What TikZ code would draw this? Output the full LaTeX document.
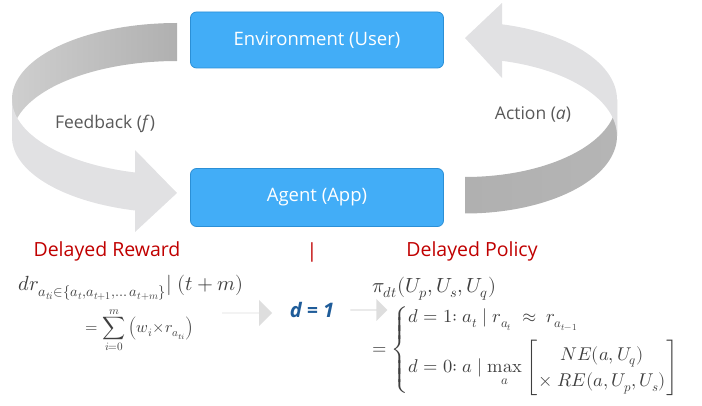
\documentclass[tikz,border=0pt]{standalone}
\usepackage{amsmath}
\usepackage{fontspec}
\usepackage[mathrm=sym]{unicode-math}
\setmainfont{Open Sans}
\setmathfont{Latin Modern Math}
\usetikzlibrary{calc,positioning,arrows,shapes}
\definecolor{boxblue}{HTML}{42ADF7}
\definecolor{boxline}{HTML}{2B8FD6}
\definecolor{delred}{HTML}{C00000}
\definecolor{dblue}{HTML}{1F5C99}
\definecolor{txtgray}{HTML}{595959}
\definecolor{mathgray}{HTML}{3F3F3F}
\definecolor{riblight}{HTML}{E1E1E3}
\begin{document}
\begin{tikzpicture}[x=1pt,y=-1pt,
  box/.style={draw=boxline,fill=boxblue,rounded corners=6pt,minimum width=253pt,minimum height=56pt,text=white,font=\fontsize{18.5}{22}\selectfont,line width=0.8pt},
  lbl/.style={text=txtgray,font=\fontsize{17.5}{21}\selectfont},
  headline/.style={text=delred,font=\fontsize{19.5}{23}\selectfont},
  eqn/.style={text=mathgray,inner sep=0pt,font=\fontsize{15}{18}\selectfont},
  blk/.style={single arrow,fill=black!13,draw=none,minimum width=26pt,single arrow head extend=6pt,inner sep=0pt}]
  \useasboundingbox (0,0) rectangle (702,406);

  \shade[left color=black!19,right color=black!31] plot[domain=90:180,samples=40] ({177+165*cos(\x)},{99-76*sin(\x)})
    -- plot[domain=180:90,samples=40] ({177+165*cos(\x)},{137-76*sin(\x)}) -- cycle;
  \fill[riblight] plot[domain=180:255.3,samples=40] ({177+165*cos(\x)},{99-76*sin(\x)})
    -- (135,150) -- (177,193) -- (135,232)
    -- plot[domain=255.3:180,samples=40] ({177+165*cos(\x)},{137-76*sin(\x)}) -- cycle;

  \shade[left color=black!31,right color=black!29] plot[domain=270:360,samples=40] ({465+152*cos(\x)},{99.5-77.5*sin(\x)})
    -- plot[domain=360:270,samples=40] ({465+152*cos(\x)},{136-77.5*sin(\x)}) -- cycle;
  \fill[riblight] plot[domain=0:75.9,samples=40] ({465+152*cos(\x)},{99.5-77.5*sin(\x)})
    -- (502,3) -- (465,38) -- (502,78)
    -- plot[domain=75.9:0,samples=40] ({465+152*cos(\x)},{136-77.5*sin(\x)}) -- cycle;

  \node[box] (env) at (317,40) {Environment (User)};
  \node[box,minimum height=58pt] (agent) at (317,197.5) {Agent (App)};
  \node[lbl] (fb) at (105,124) {Feedback (\textit{f})};
  \node[lbl] (act) at (533,114) {Action (\textit{a})};

  \node[headline] (rew) at (107,251) {Delayed Reward};
  \node[headline] (sep) at (312,252) {|};
  \node[headline] (pol) at (472,251) {Delayed Policy};

  \node[eqn,anchor=west,font=\fontsize{20.5}{24}\selectfont] (dr) at (18,288) {$dr_{a_{ti}\in\{a_t,a_{t+1},\dots\,a_{t+m}\}}|\;(t+m)$};
  \node[eqn,font=\fontsize{16}{19}\selectfont] (sum) at (140,330) {$\displaystyle=\sum_{i=0}^{m}\left(w_i{\times}r_{a_{ti}}\right)$};
  \node[blk,minimum height=50pt] (arr1) at (247,313) {};
  \node[text=dblue,font=\bfseries\itshape\fontsize{20}{23}\selectfont] (dval) at (312,310) {d = 1};
  \node[blk,minimum height=37pt,minimum width=22pt,single arrow head extend=4pt] (arr2) at (368.5,310) {};
  \node[eqn,anchor=west,font=\fontsize{20.5}{24}\selectfont] (pi) at (372,289) {$\pi_{dt}(U_p,U_s,U_q)$};
  \node[eqn,anchor=west,font=\fontsize{18.5}{22}\selectfont] (cases) at (372,350) {$=\begin{cases} d=1{:}\ a_t \mid r_{a_t}\ \approx\ r_{a_{t-1}}\\[10pt] d=0{:}\ a \mid \max\limits_{a}\begin{bmatrix} NE(a,U_q)\\ {\times}\ RE(a,U_p,U_s)\end{bmatrix}\end{cases}$};
\end{tikzpicture}
\end{document}
